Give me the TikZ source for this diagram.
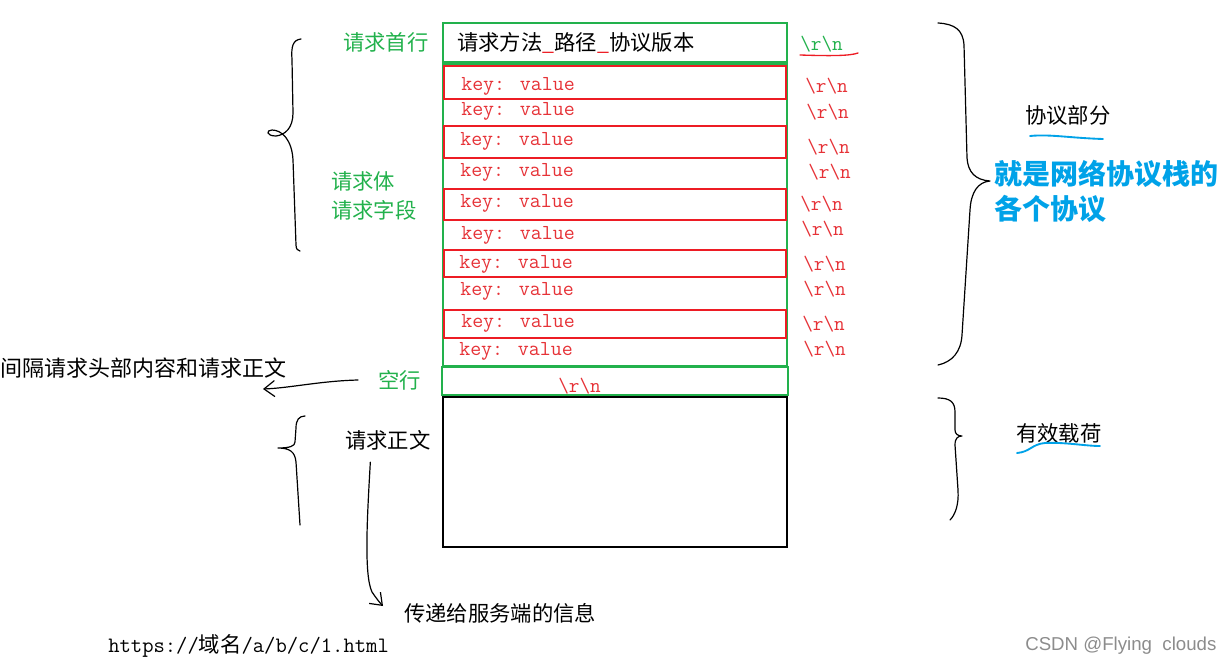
\documentclass[tikz,border=0pt]{standalone}
\usepackage{fontspec}
\setmainfont{Noto Sans CJK SC}
\newfontfamily\sansf{Liberation Sans}
\usetikzlibrary{arrows.meta}
\definecolor{gr}{RGB}{34,177,76}
\definecolor{rd}{RGB}{237,28,36}
\definecolor{rt}{RGB}{230,50,55}
\definecolor{bl}{RGB}{0,162,232}
\definecolor{gy}{RGB}{140,140,140}
\tikzset{
 gbox/.style={draw=gr, line width=1.5pt},
 rbox/.style={draw=rd, line width=1.2pt},
 kbox/.style={draw=black, line width=1.1pt},
 kv/.style={anchor=west, inner sep=0, text=rt, font=\ttfamily\fontsize{16}{16}\selectfont},
 crlf/.style={anchor=west, inner sep=0, text=rt, font=\ttfamily\fontsize{15.5}{16}\selectfont},
 glabel/.style={anchor=west, inner sep=0, text=gr, font=\fontsize{16}{16}\selectfont},
 blabel/.style={anchor=west, inner sep=0, text=black, font=\fontsize{16}{16}\selectfont},
 hand/.style={draw=black, line width=0.9pt, line cap=round, line join=round},
 bline/.style={draw=bl, line width=1.4pt, line cap=round},
 barb/.style={-{Straight Barb[length=8pt,width=12pt]}},
}
\begin{document}
\begin{tikzpicture}[x=0.75pt,y=-0.75pt]
\useasboundingbox (0,0) rectangle (1230,666);
% boxes
\draw[gbox] (443,23) rectangle (787,62);
\draw[gbox] (443,64) rectangle (787,366);
\draw[gbox] (442,367) rectangle (788,395);
\draw[kbox] (443,397) rectangle (787,547);
\draw[rbox] (444,66) rectangle (786,99);
\draw[rbox] (444,126) rectangle (786,158);
\draw[rbox] (444,189) rectangle (786,220);
\draw[rbox] (444,250) rectangle (786,277);
\draw[rbox] (444,310) rectangle (786,338);
% top row
\node[blabel] (title) at (457,43) {请求方法{\color{rd}\_}路径{\color{rd}\_}协议版本};
\node[glabel] (shouhang) at (343,42) {请求首行};
\node[crlf, text=gr] (r0) at (800,44) {\textbackslash r\textbackslash n};
\draw[rd, line width=1pt, line cap=round] (800,55) .. controls (830,56) and (850,56) .. (858,53);
% key value rows
\node[kv] (k1) at (461,86) {key: value};
\node[kv] (k2) at (461,111) {key: value};
\node[kv] (k3) at (460,141) {key: value};
\node[kv] (k4) at (460,172) {key: value};
\node[kv] (k5) at (460,203) {key: value};
\node[kv] (k6) at (461,235) {key: value};
\node[kv] (k7) at (459,264) {key: value};
\node[kv] (k8) at (460,291) {key: value};
\node[kv] (k9) at (461,323) {key: value};
\node[kv] (k10) at (459,351) {key: value};
\node[crlf] (r1) at (805,86) {\textbackslash r\textbackslash n};
\node[crlf] (r2) at (806,112) {\textbackslash r\textbackslash n};
\node[crlf] (r3) at (807,147) {\textbackslash r\textbackslash n};
\node[crlf] (r4) at (808,172) {\textbackslash r\textbackslash n};
\node[crlf] (r5) at (800,204) {\textbackslash r\textbackslash n};
\node[crlf] (r6) at (801,229) {\textbackslash r\textbackslash n};
\node[crlf] (r7) at (803,264) {\textbackslash r\textbackslash n};
\node[crlf] (r8) at (803,289) {\textbackslash r\textbackslash n};
\node[crlf] (r9) at (802,324) {\textbackslash r\textbackslash n};
\node[crlf] (r10) at (803,349) {\textbackslash r\textbackslash n};
\node[crlf] (r11) at (558,386) {\textbackslash r\textbackslash n};
% left labels
\node[glabel] (qqt) at (331,181) {请求体};
\node[glabel] (qqzd) at (331,210) {请求字段};
\node[blabel, font=\fontsize{16.5}{17}\selectfont] (jiange) at (0,368) {间隔请求头部内容和请求正文};
\node[glabel] (kong) at (378,380) {空行};
\node[blabel] (zw) at (345,440) {请求正文};
\node[blabel] (chuandi) at (404,613) {传递给服务端的信息};
\node[anchor=west, inner sep=0] (url) at (108,646) {\ttfamily\fontsize{16.5}{17}\selectfont https://{\rmfamily\fontsize{16}{16}\selectfont 域名}/a/b/c/1.html};
% right labels
\node[blabel] (xieyi) at (1025,115) {协议部分};
\node[anchor=west, inner sep=0, text=bl, font=\bfseries\fontsize{21}{21}\selectfont] (jiushi1) at (994,174) {就是网络协议栈的};
\node[anchor=west, inner sep=0, text=bl, font=\bfseries\fontsize{21}{21}\selectfont] (jiushi2) at (994,209) {各个协议};
\node[blabel] (youxiao) at (1016,433) {有效载荷};
\node[anchor=west, inner sep=0, text=gy, font=\sansf\fontsize{14}{14}\selectfont] (csdn) at (1025,646) {CSDN @Flying\ \ clouds};
% arrows
\coordinate (kongtip) at (263,389);
\draw[hand, barb] ([xshift=-15pt]kong.west) .. controls (320,381) and (290,388) .. (kongtip);
\coordinate (zwtip) at (383,606);
\draw[hand, barb] ([xshift=19pt,yshift=-9pt]zw.south west) .. controls (367,520) and (364,575) .. (372,592) .. controls (376,598) and (380,603) .. (zwtip);
% braces
\draw[hand] (301,39) .. controls (293,40) and (291,46) .. (292,60) -- (293,113) .. controls (293,128) and (285,135) .. (276,136) .. controls (266,136) and (266,130) .. (272,130) .. controls (282,130) and (292,140) .. (293,160) -- (296,245) .. controls (296,249) and (298,251) .. (300,251);
\draw[hand] (305,416) .. controls (299,416) and (296,420) .. (296,428) -- (295,442) .. controls (295,446) and (290,448) .. (278,448) .. controls (290,448) and (295,452) .. (296,462) -- (300,525);
\draw[hand] (938,23) .. controls (955,24) and (963,30) .. (964,45) -- (967,158) .. controls (968,172) and (975,180) .. (990,181) .. controls (978,182) and (971,192) .. (970,210) -- (962,335) .. controls (961,352) and (952,362) .. (938,365);
\draw[hand] (938,398) .. controls (950,398) and (955,402) .. (955,412) -- (955,430) .. controls (955,434) and (958,436) .. (962,436) .. controls (958,436) and (955,438) .. (955,445) -- (958,490) .. controls (959,505) and (955,515) .. (950,520);
% blue underlines
\draw[bline] (1030,136) .. controls (1050,134) and (1070,138) .. (1103,139);
\draw[bline] (1017,453) .. controls (1030,452) and (1032,444) .. (1045,443) .. controls (1065,442) and (1085,446) .. (1100,446);
\end{tikzpicture}
\end{document}
